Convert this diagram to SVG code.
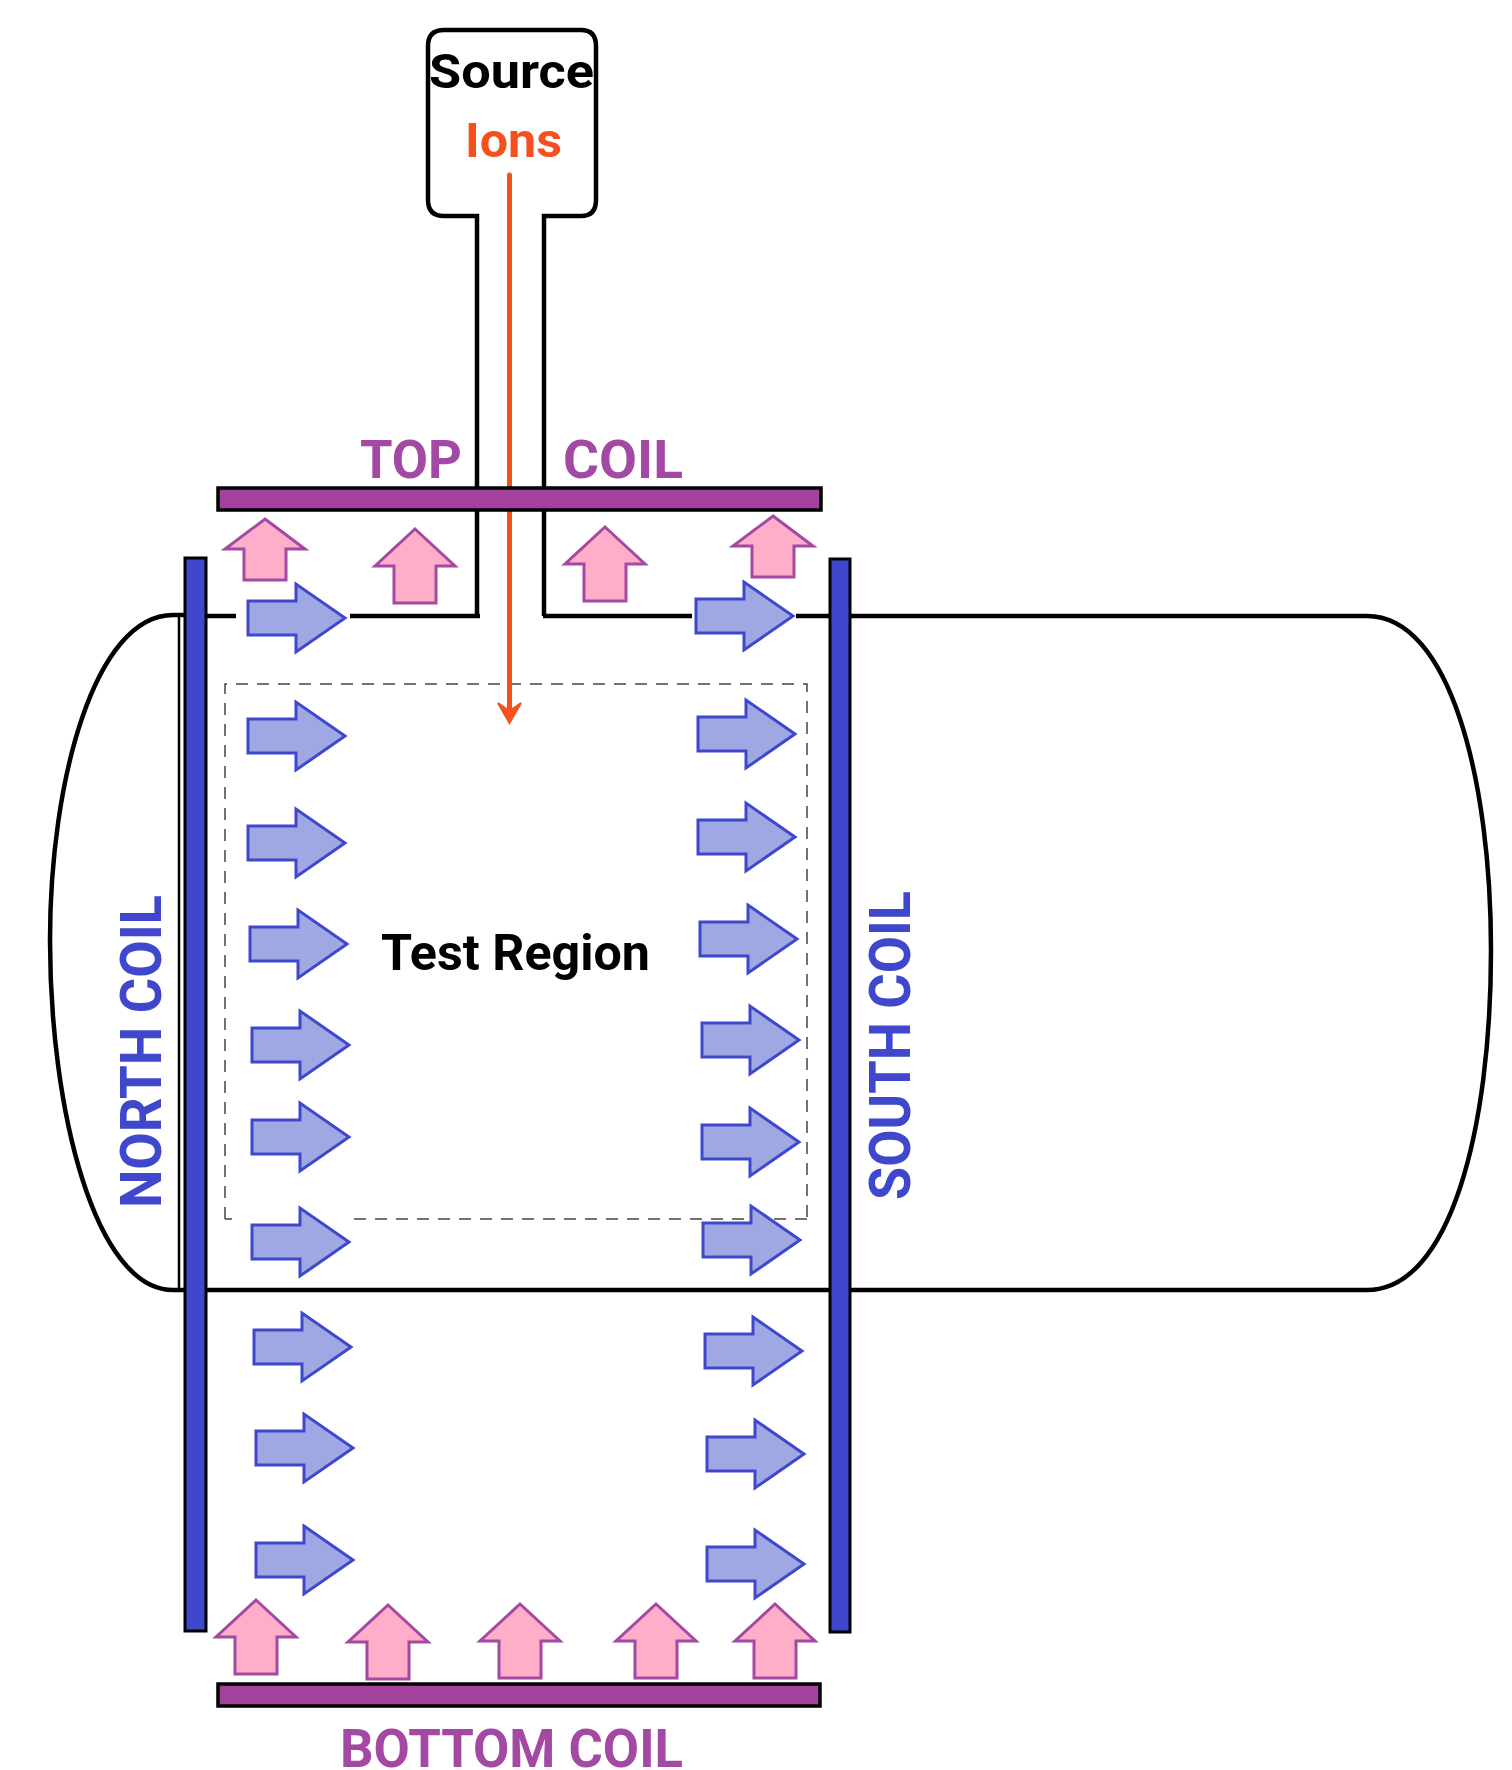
<svg xmlns="http://www.w3.org/2000/svg" xmlns:xlink="http://www.w3.org/1999/xlink" width="1512" height="1770" viewBox="0 0 1512 1770">
<style>
.wall{fill:none;stroke:#000;stroke-width:4.5}
.thin{fill:none;stroke:#000;stroke-width:2.5}
.dash{fill:none;stroke:#444;stroke-width:1.5;stroke-dasharray:12 9}
.ncoil{fill:#3f48cc;stroke:#000;stroke-width:3}
.hcoil{fill:#a3429c;stroke:#000;stroke-width:3.5}
.blue{fill:#a0a8e4;stroke:#3f48cc;stroke-width:3;stroke-linejoin:miter}
.pink{fill:#ffaec9;stroke:#a349a4;stroke-width:3}
text{font-family:"Roboto","Liberation Sans",sans-serif;font-weight:700}
.pt{fill:#a349a4;font-size:54px}
.bt{fill:#3f48cc;font-size:58px}
</style>
<defs>
<polygon id="b" class="blue" points="0,-17 48,-17 48,-34 97,0 48,34 48,17 0,17"/>
<polygon id="p1" class="pink" points="0,0 40,30 21,30 21,61 -21,61 -21,30 -40,30"/>
<polygon id="p2" class="pink" points="0,0 40,37 21,37 21,74 -21,74 -21,37 -40,37"/>
</defs>
<rect width="1512" height="1770" fill="#fff"/>
<g id="chamber">
<path class="wall" d="M184,615H173C95,615 50,780 50,940C50,1110 95,1290 173,1290H184"/>
<path class="wall" d="M851,616H1367C1450,616 1491,780 1491,950C1491,1130 1450,1290 1367,1290H851"/>
<path class="thin" d="M179,616V1290"/>
<path class="wall" d="M206,616H236M350,616H480M543,616H692M796,616H830M206,1290H830"/>
</g>
<g id="source">
<path class="wall" d="M477,616V216H444Q428,216 428,200V46Q428,30 444,30H581Q596,30 596,46V200Q596,216 581,216H544V616"/>
<text x="429" y="88" font-size="49" fill="#000" textLength="165" lengthAdjust="spacingAndGlyphs">Source</text>
<text x="465" y="157" font-size="49" fill="#f4511e" textLength="97" lengthAdjust="spacingAndGlyphs">Ions</text>
</g>
<g id="test-region">
<path class="dash" d="M225,1219V684H807V1219M232,1219H225M354,1219H807"/>
<text x="381" y="970" font-size="50" fill="#000" textLength="269" lengthAdjust="spacingAndGlyphs">Test Region</text>
</g>
<g id="ion-beam">
<path d="M509.5,175V715" fill="none" stroke="#f4511e" stroke-width="5" stroke-linecap="round"/>
<path d="M498,703L509.5,723L521,703L509.5,711Z" fill="#f4511e" stroke="#f4511e" stroke-width="2"/>
</g>
<g id="top-coil">
<rect class="hcoil" x="218" y="488" width="603" height="22"/>
<text class="pt" x="360" y="478" textLength="102" lengthAdjust="spacingAndGlyphs">TOP</text>
<text class="pt" x="563" y="478" textLength="120" lengthAdjust="spacingAndGlyphs">COIL</text>
</g>
<g id="bottom-coil">
<rect class="hcoil" x="218" y="1684" width="602" height="22"/>
<text class="pt" x="340" y="1767" textLength="343" lengthAdjust="spacingAndGlyphs">BOTTOM COIL</text>
</g>
<g id="north-coil">
<rect class="ncoil" x="185" y="558" width="21" height="1073"/>
<text class="bt" transform="translate(161,1208) rotate(-90)" textLength="313" lengthAdjust="spacingAndGlyphs">NORTH COIL</text>
</g>
<g id="south-coil">
<rect class="ncoil" x="830" y="559" width="20" height="1073"/>
<text class="bt" transform="translate(910,1200) rotate(-90)" textLength="309" lengthAdjust="spacingAndGlyphs">SOUTH COIL</text>
</g>
<g id="field-north">
<use href="#b" x="248" y="618"/><use href="#b" x="248" y="736"/><use href="#b" x="248" y="843"/><use href="#b" x="250" y="944"/><use href="#b" x="252" y="1045"/><use href="#b" x="252" y="1137"/><use href="#b" x="252" y="1242"/><use href="#b" x="254" y="1347"/><use href="#b" x="256" y="1448"/><use href="#b" x="256" y="1560"/>
</g>
<g id="field-south">
<use href="#b" x="696" y="616"/><use href="#b" x="698" y="734"/><use href="#b" x="698" y="837"/><use href="#b" x="700" y="939"/><use href="#b" x="702" y="1040"/><use href="#b" x="702" y="1142"/><use href="#b" x="703" y="1240"/><use href="#b" x="705" y="1351"/><use href="#b" x="707" y="1454"/><use href="#b" x="707" y="1564"/>
</g>
<g id="field-top">
<use href="#p1" x="265" y="519"/><use href="#p2" x="415" y="529"/><use href="#p2" x="605" y="527"/><use href="#p1" x="773" y="516"/>
</g>
<g id="field-bottom">
<use href="#p2" x="256" y="1600"/><use href="#p2" x="388" y="1605"/><use href="#p2" x="520" y="1604"/><use href="#p2" x="656" y="1604"/><use href="#p2" x="775" y="1604"/>
</g>
</svg>
